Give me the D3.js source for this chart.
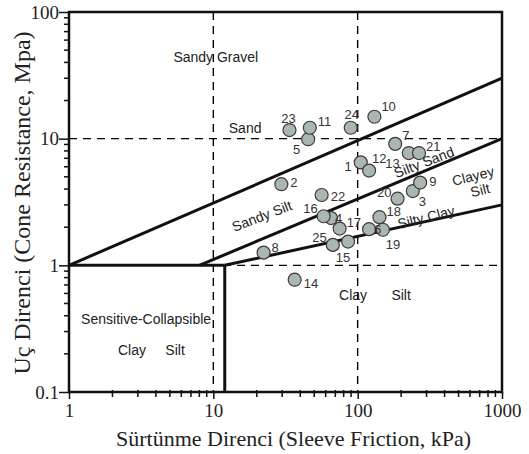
<!DOCTYPE html>
<html><head><meta charset="utf-8">
<script src="https://cdn.jsdelivr.net/npm/d3@7"></script>
<style>body{margin:0;background:#fff}svg{display:block}</style>
</head><body>
<svg id="c" width="529" height="454"></svg>
<script>
const ids = ["1","2","3","4","5","6","7","8","9","10","11","12","13","14","15","16","17","18","19","20","21","22","23","24","25"];
const friction = [105,29.6,241,65.4,45.4,120,182,22.3,271,130.6,46.6,120,226,36.6,85.8,58.1,75,141.6,149.5,189,266,56.3,33.7,89.5,67.3];
const resistance = [6.5,4.37,3.86,2.36,9.9,1.93,9.1,1.26,4.5,14.9,12.2,5.6,7.7,0.77,1.54,2.44,1.95,2.4,1.91,3.36,7.7,3.59,11.7,12.2,1.45];
// label placement: dx, dy, anchor
const labelPos = {"1":[-9,4,"end"],"2":[9,-2,"start"],"3":[6,10,"start"],"4":[4,0,"start"],"5":[-8,10,"end"],
 "6":[5,0,"start"],"7":[7,-8,"start"],"8":[8,-5,"start"],"9":[9,-1,"start"],"10":[7,-10,"start"],"11":[8,-6,"start"],
 "12":[3,-12,"start"],"13":[-9,10,"end"],"14":[9,4,"start"],"15":[-5,16,"middle"],"16":[-6,-8,"end"],"17":[7,-6,"start"],
 "18":[7,-6,"start"],"19":[3,15,"start"],"20":[-6,-6,"end"],"21":[7,-7,"start"],"22":[9,1,"start"],"23":[-1,-12,"middle"],
 "24":[1,-13,"middle"],"25":[-6,-7,"end"]};
const xTicks = [1,10,100,1000];
const yTicks = [0.1,1,10,100];
const boundaries = [
  [[1,1],[1000,30]],
  [[8,1],[1000,10]],
  [[12,1],[1000,3]],
  [[1,1],[12,1]],
  [[12,0.1],[12,1]]
];
const dashedV = [10,100];
const dashedH = [1,10];
const zoneLabels = [
  {t:"Sandy Gravel",x:10.4,y:44,r:0},
  {t:"Sand",x:16.6,y:12.1,r:0},
  {t:"Silty Sand",x:288,y:6.5,r:-21},
  {t:"Clayey",x:630,y:5.07,r:-14},
  {t:"Silt",x:705,y:3.93,r:-14},
  {t:"Sandy Silt",x:21.7,y:2.45,r:-21},
  {t:"Silty Clay",x:298,y:2.4,r:-14},
  {t:"Clay",x:93,y:0.583,r:0},
  {t:"Silt",x:200,y:0.583,r:0},
  {t:"Sensitive-Collapsible",x:3.42,y:0.377,r:0},
  {t:"Clay",x:2.73,y:0.215,r:0},
  {t:"Silt",x:5.43,y:0.215,r:0}
];

const SERIF = "'Times New Roman', 'Liberation Serif', serif";
const SANS = "Arial, 'Liberation Sans', sans-serif";
const svg = d3.select("#c");
const L=69,R=502,T=12,B=392;
const x = d3.scaleLog().domain([1,1000]).range([L,R]);
const y = d3.scaleLog().domain([0.1,100]).range([B,T]);

// dashed lines
svg.selectAll(".dv").data(dashedV).enter().append("line")
  .attr("x1",d=>x(d)).attr("x2",d=>x(d)).attr("y1",T).attr("y2",B)
  .attr("stroke","#000").attr("stroke-width",1.4).attr("stroke-dasharray","8,6");
svg.selectAll(".dh").data(dashedH).enter().append("line")
  .attr("x1",L).attr("x2",R).attr("y1",d=>y(d)).attr("y2",d=>y(d))
  .attr("stroke","#000").attr("stroke-width",1.4).attr("stroke-dasharray","8,6");

// boundaries
const line = d3.line().x(d=>x(d[0])).y(d=>y(d[1]));
svg.selectAll(".bd").data(boundaries).enter().append("path")
  .attr("d",line).attr("fill","none").attr("stroke","#111").attr("stroke-width",3);

// frame
svg.append("rect").attr("x",L).attr("y",T).attr("width",R-L).attr("height",B-T)
  .attr("fill","none").attr("stroke","#111").attr("stroke-width",2.5);

// axes
const xAxis = d3.axisBottom(x).tickValues(xTicks).tickFormat(d3.format("")).tickSize(7);
const gx = svg.append("g").attr("transform",`translate(0,${B})`).call(xAxis);
const yAxis = d3.axisLeft(y).tickValues(yTicks).tickFormat(d=>d===0.1?"0.1":String(d)).tickSize(10);
const gy = svg.append("g").attr("transform",`translate(${L},0)`).call(yAxis);
[gx,gy].forEach(g=>{
  g.attr("font-family",null);
  g.select(".domain").remove();
  g.selectAll("line").attr("stroke","#111").attr("stroke-width",1.5);
  g.selectAll("text").style("font-family",SERIF).style("font-size","19px").attr("fill","#222");
});
gx.selectAll("text").attr("y",9).attr("dy","0.85em");
gy.selectAll("text").attr("x",-10).attr("dy","0.33em");
// minor ticks
const minorX = x.ticks().filter(d=>!xTicks.includes(d));
svg.append("g").selectAll("line").data(minorX).enter().append("line")
  .attr("x1",d=>x(d)).attr("x2",d=>x(d)).attr("y1",B-2).attr("y2",B+5)
  .attr("stroke","#111").attr("stroke-width",1.5);
const minorY = y.ticks().filter(d=>!yTicks.includes(d));
svg.append("g").selectAll("line").data(minorY).enter().append("line")
  .attr("y1",d=>y(d)).attr("y2",d=>y(d)).attr("x1",L-5).attr("x2",L+1)
  .attr("stroke","#111").attr("stroke-width",1.5);

// zone labels
svg.selectAll(".zl").data(zoneLabels).enter().append("text")
  .attr("transform",d=>`translate(${x(d.x)},${y(d.y)}) rotate(${d.r})`)
  .attr("text-anchor","middle").attr("dy","0.35em")
  .style("font-family",SANS).style("font-size","14px").attr("fill","#222")
  .text(d=>d.t);

// points
const pts = ids.map((id,i)=>({id,f:friction[i],q:resistance[i]}));
svg.selectAll(".pt").data(pts).enter().append("circle")
  .attr("cx",d=>x(d.f)).attr("cy",d=>y(d.q)).attr("r",6.5)
  .attr("fill","#aab6b0").attr("stroke","#3a3a3a").attr("stroke-width",1.2);
svg.selectAll(".pl").data(pts).enter().append("text")
  .attr("x",d=>x(d.f)+labelPos[d.id][0]).attr("y",d=>y(d.q)+labelPos[d.id][1])
  .attr("text-anchor",d=>labelPos[d.id][2]).attr("dy","0.35em")
  .style("font-family",SANS).style("font-size","13px").attr("fill","#333")
  .text(d=>d.id);

// axis titles
svg.append("text").attr("x",(L+R)/2 + 8).attr("y",446).attr("text-anchor","middle")
  .style("font-family",SERIF).style("font-size","22px").attr("fill","#222")
  .text("Sürtünme Direnci (Sleeve Friction, kPa)");
svg.append("text").attr("transform",`translate(30,${(T+B)/2+1}) rotate(-90)`).attr("text-anchor","middle")
  .style("font-family",SERIF).style("font-size","24px").attr("fill","#222")
  .text("Uç Direnci (Cone Resistance, Mpa)");
</script>
</body></html>
